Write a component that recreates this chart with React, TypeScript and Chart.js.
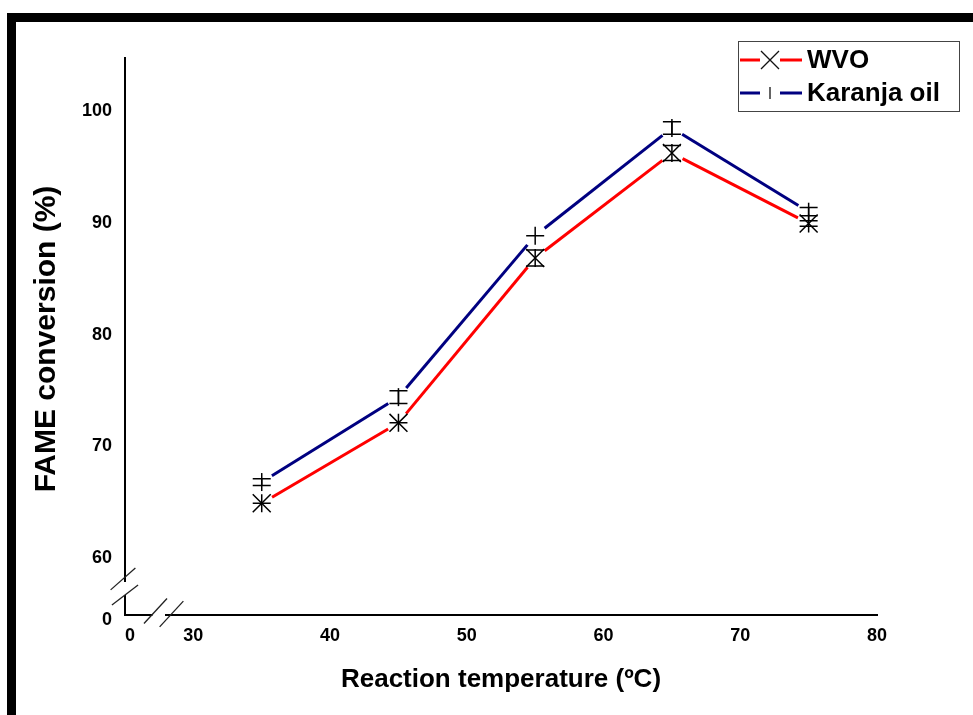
import { useEffect, useRef } from 'react';
import { Chart, registerables } from 'chart.js';

Chart.register(...registerables);

// ---- data ----
const temperatures = [35, 45, 55, 65, 75];
const wvoValues = [64.9, 72.1, 86.85, 96.25, 89.95];
const wvoErrors = [0, 0, 0.72, 0.67, 0.25];
const karanjaValues = [66.8, 74.4, 88.85, 98.5, 91.0];
const karanjaErrors = [0.3, 0.58, 0, 0.56, 0.37];

const seriesLabels = ['WVO', 'Karanja oil'];
const seriesColors = ['#ff0000', '#000080'];

// broken axes: the first tick of each axis is labelled "0"
const xTickValues = [25.37, 30, 40, 50, 60, 70, 80];
const xTickLabels = ['0', '30', '40', '50', '60', '70', '80'];
const yTickValues = [54.45, 60, 70, 80, 90, 100];
const yTickLabels = ['0', '60', '70', '80', '90', '100'];

const X_MIN = 25;
const X_MAX = 80;
const Y_MIN = 54.45;
const Y_MAX = 104.76;
const Y_AXIS_BASE = 54.9; // where the horizontal axis line sits

const FONT = "'Liberation Sans', Arial, Helvetica, sans-serif";

const decorPlugin = {
  id: 'decor',
  beforeDatasetsDraw(chart: any) {
    const ctx = chart.ctx;
    const gap = 12;
    chart.data.datasets.forEach((ds: any, di: number) => {
      const meta = chart.getDatasetMeta(di);
      ctx.save();
      ctx.strokeStyle = ds.borderColor;
      ctx.lineWidth = 3;
      ctx.lineCap = 'butt';
      for (let i = 0; i < meta.data.length - 1; i++) {
        const a = meta.data[i];
        const b = meta.data[i + 1];
        const dx = b.x - a.x;
        const dy = b.y - a.y;
        const len = Math.hypot(dx, dy);
        const ux = dx / len;
        const uy = dy / len;
        ctx.beginPath();
        ctx.moveTo(a.x + ux * gap, a.y + uy * gap);
        ctx.lineTo(b.x - ux * gap, b.y - uy * gap);
        ctx.stroke();
      }
      ctx.restore();
    });
  },
  afterDatasetsDraw(chart: any) {
    const ctx = chart.ctx;
    const yS = chart.scales.y;
    chart.data.datasets.forEach((ds: any, di: number) => {
      const meta = chart.getDatasetMeta(di);
      const errs: number[] = ds.errors;
      ctx.save();
      ctx.strokeStyle = '#000';
      ctx.lineWidth = 1.5;
      meta.data.forEach((pt: any, i: number) => {
        const v = ds.data[i].y;
        const e = errs[i];
        const yTop = yS.getPixelForValue(v + e);
        const yBot = yS.getPixelForValue(v - e);
        const cap = 9;
        ctx.beginPath();
        // vertical bar
        let vt = yTop;
        let vb = yBot;
        if (ds.minBar) {
          vt = Math.min(vt, pt.y - ds.minBar);
          vb = Math.max(vb, pt.y + ds.minBar);
        }
        ctx.moveTo(pt.x, vt);
        ctx.lineTo(pt.x, vb);
        // caps
        ctx.moveTo(pt.x - cap, yTop);
        ctx.lineTo(pt.x + cap, yTop);
        ctx.moveTo(pt.x - cap, yBot);
        ctx.lineTo(pt.x + cap, yBot);
        ctx.stroke();
      });
      ctx.restore();
    });
  },
  afterDraw(chart: any) {
    const ctx = chart.ctx;
    const xS = chart.scales.x;
    const yS = chart.scales.y;
    const ax = xS.getPixelForValue(X_MIN);
    const axEnd = xS.getPixelForValue(X_MAX);
    const ay = yS.getPixelForValue(Y_AXIS_BASE);
    const ayTop = yS.getPixelForValue(Y_MAX);

    // axis lines with breaks
    const yBreakC = ay - 26.5;
    const xBreakC = ax + 34;
    const half = 7.5;
    ctx.save();
    ctx.strokeStyle = '#000';
    ctx.lineWidth = 2;
    ctx.lineCap = 'square';
    ctx.beginPath();
    ctx.moveTo(ax, ayTop);
    ctx.lineTo(ax, yBreakC - half);
    ctx.moveTo(ax, yBreakC + half);
    ctx.lineTo(ax, ay);
    ctx.lineTo(xBreakC - half, ay);
    ctx.moveTo(xBreakC + half - 0.5, ay);
    ctx.lineTo(axEnd, ay);
    ctx.stroke();

    // break slashes
    ctx.lineWidth = 1.3;
    ctx.strokeStyle = '#222';
    ctx.lineCap = 'butt';
    const slash = (cx: number, cy: number, dx: number, dy: number, len: number) => {
      const l = Math.hypot(dx, dy);
      const ux = (dx / l) * len;
      const uy = (dy / l) * len;
      ctx.beginPath();
      ctx.moveTo(cx - ux, cy - uy);
      ctx.lineTo(cx + ux, cy + uy);
      ctx.stroke();
    };
    slash(ax - 2, yBreakC - half - 2, 25, -22, 16.5);
    slash(ax, yBreakC + half - 1, 26, -20, 16.5);
    slash(xBreakC - half + 4, ay - 4, 23, -25, 17);
    slash(xBreakC + half + 5, ay - 1, 24, -26, 17.5);
    ctx.restore();

    // legend
    const bx = 738;
    const by = 41;
    const bw = 221;
    const bh = 70;
    ctx.save();
    ctx.fillStyle = '#fff';
    ctx.fillRect(bx, by, bw, bh);
    ctx.strokeStyle = '#444';
    ctx.lineWidth = 1;
    ctx.strokeRect(bx + 0.5, by + 0.5, bw, bh);
    const rows = [60, 93];
    chart.data.datasets.forEach((ds: any, di: number) => {
      const ry = rows[di];
      ctx.strokeStyle = ds.borderColor;
      ctx.lineWidth = 3;
      ctx.beginPath();
      ctx.moveTo(740, ry);
      ctx.lineTo(760, ry);
      ctx.moveTo(780, ry);
      ctx.lineTo(802, ry);
      ctx.stroke();
      ctx.strokeStyle = '#111';
      ctx.lineWidth = 1.3;
      ctx.beginPath();
      if (di === 0) {
        ctx.moveTo(761, ry - 9);
        ctx.lineTo(779, ry + 9);
        ctx.moveTo(779, ry - 9);
        ctx.lineTo(761, ry + 9);
      } else {
        ctx.moveTo(770, ry - 6);
        ctx.lineTo(770, ry + 6);
      }
      ctx.stroke();
      ctx.fillStyle = '#000';
      ctx.font = `bold 26px ${FONT}`;
      ctx.textAlign = 'left';
      ctx.textBaseline = 'middle';
      ctx.fillText(ds.label, 807, ry + 1);
    });
    ctx.restore();
  },
};

export default function App() {
  const canvasRef = useRef<HTMLCanvasElement>(null);

  useEffect(() => {
    const canvas = canvasRef.current;
    if (!canvas) return;
    const chart = new Chart(canvas, {
      type: 'scatter',
      data: {
        datasets: [
          {
            label: seriesLabels[0],
            data: temperatures.map((t, i) => ({ x: t, y: wvoValues[i] })),
            borderColor: seriesColors[0],
            backgroundColor: seriesColors[0],
            pointStyle: 'crossRot',
            pointRadius: 12.7,
            pointBorderColor: '#000',
            pointBackgroundColor: 'transparent',
            pointBorderWidth: 1.5,
            showLine: false,
            errors: wvoErrors,
            minBar: 9,
          } as any,
          {
            label: seriesLabels[1],
            data: temperatures.map((t, i) => ({ x: t, y: karanjaValues[i] })),
            borderColor: seriesColors[1],
            backgroundColor: seriesColors[1],
            pointStyle: 'line',
            pointRotation: 90,
            pointRadius: 9,
            pointBorderColor: '#000',
            pointBackgroundColor: 'transparent',
            pointBorderWidth: 1.5,
            showLine: false,
            errors: karanjaErrors,
          } as any,
        ],
      },
      options: {
        responsive: false,
        animation: false,
        layout: { padding: { left: 0, top: 58, right: 96, bottom: 0 } },
        plugins: {
          legend: { display: false },
          tooltip: { enabled: false },
        },
        scales: {
          x: {
            type: 'linear',
            min: X_MIN,
            max: X_MAX,
            grid: { display: false, drawTicks: false },
            border: { display: false },
            afterBuildTicks: (scale: any) => {
              scale.ticks = xTickValues.map((v) => ({ value: v }));
            },
            afterFit: (scale: any) => {
              scale.height = 95;
            },
            ticks: {
              autoSkip: false,
              maxRotation: 0,
              padding: 5,
              color: '#000',
              font: { family: FONT, size: 18, weight: 'bold' },
              callback: (_v: any, i: number) => xTickLabels[i],
            },
            title: {
              display: true,
              text: 'Reaction temperature (ºC)',
              color: '#000',
              font: { family: FONT, size: 26, weight: 'bold' },
              padding: { top: 0, bottom: 20 },
            },
          },
          y: {
            type: 'linear',
            min: Y_MIN,
            max: Y_MAX,
            grid: { display: false, drawTicks: false },
            border: { display: false },
            afterBuildTicks: (scale: any) => {
              scale.ticks = yTickValues.map((v) => ({ value: v }));
            },
            afterFit: (scale: any) => {
              scale.width = 125;
            },
            ticks: {
              autoSkip: false,
              padding: 13,
              color: '#000',
              font: { family: FONT, size: 18, weight: 'bold' },
              callback: (_v: any, i: number) => yTickLabels[i],
            },
            title: {
              display: true,
              text: 'FAME conversion (%)',
              color: '#000',
              font: { family: FONT, size: 30, weight: 'bold' },
              padding: { top: 29, bottom: 0 },
            },
          },
        },
      },
      plugins: [decorPlugin],
    });
    return () => chart.destroy();
  }, []);

  return (
    <div style={{ position: 'fixed', left: 0, top: 0, width: 973, height: 715, background: '#fff' }}>
      <canvas
        ref={canvasRef}
        width={973}
        height={715}
        style={{ position: 'absolute', left: 0, top: 0, width: 973, height: 715 }}
      />
      <div
        style={{
          position: 'absolute',
          left: 7,
          top: 13,
          width: 966,
          height: 702,
          borderTop: '9px solid #000',
          borderLeft: '9px solid #000',
          boxSizing: 'border-box',
          pointerEvents: 'none',
        }}
      />
    </div>
  );
}
